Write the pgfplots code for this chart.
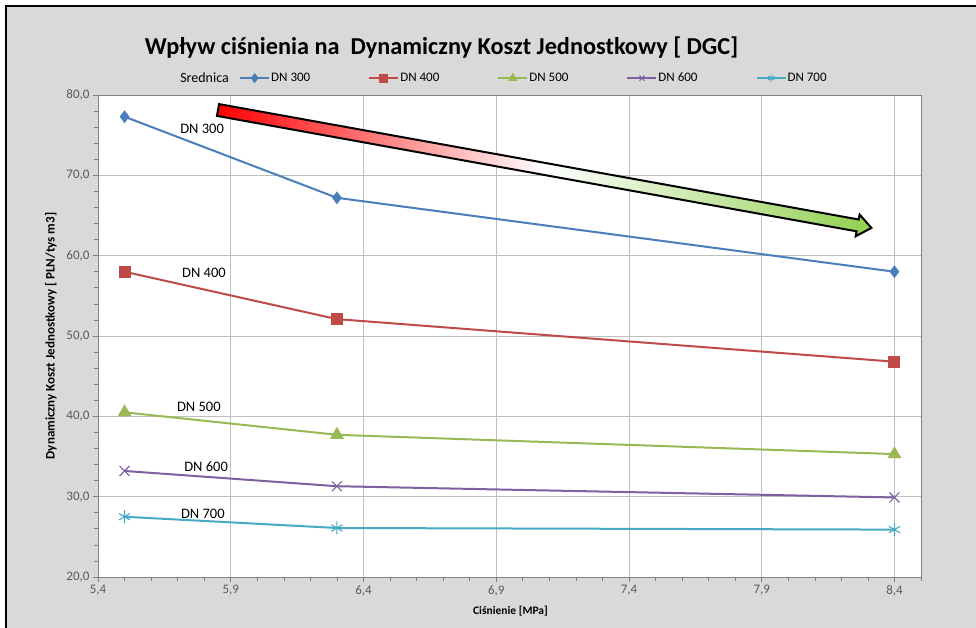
\documentclass[border=0pt]{standalone}
\usepackage{fontspec}
\setmainfont{Carlito}
\usepackage{pgfplots}
\pgfplotsset{compat=1.18}

\definecolor{bgc}{HTML}{D9D9D9}
\definecolor{gridc}{HTML}{BFBFBF}
\definecolor{tickc}{HTML}{595959}
\definecolor{c300}{HTML}{4A7EBB}
\definecolor{c400}{HTML}{BE4B48}
\definecolor{c500}{HTML}{98B954}
\definecolor{c600}{HTML}{7D60A0}
\definecolor{c700}{HTML}{46AAC5}
\definecolor{arrgreen}{HTML}{92D050}

\begin{document}
\begin{tikzpicture}[x=1pt,y=1pt]
\useasboundingbox (0,0) rectangle (976,628);
\fill[white] (0,0) rectangle (976,628);
\fill[bgc] (6,0) rectangle (976,622);
\draw[black, line width=1.5pt] (6,0) -- (6,622) -- (976,622);

% title
\node[font=\fontsize{24.3}{24.3}\selectfont\bfseries] at (441.5,580)
  {Wpływ ciśnienia na\ \ Dynamiczny Koszt Jednostkowy [ DGC]};
\node[font=\fontsize{14}{14}\selectfont, anchor=east, inner sep=0pt] at (229,550) {Srednica};

\begin{axis}[
  at={(98pt,51pt)}, anchor=south west,
  scale only axis, width=823pt, height=482pt,
  xmin=5.4, xmax=8.5, ymin=20, ymax=80,
  xtick={5.4,5.9,6.4,6.9,7.4,7.9,8.4},
  ytick={20,30,40,50,60,70,80},
  minor xtick={5.5,5.6,5.7,5.8,6.0,6.1,6.2,6.3,6.5,6.6,6.7,6.8,7.0,7.1,7.2,7.3,7.5,7.6,7.7,7.8,8.0,8.1,8.2,8.3,8.5},
  minor ytick={22,24,26,28,32,34,36,38,42,44,46,48,52,54,56,58,62,64,66,68,72,74,76,78},
  grid=major,
  major grid style={draw=gridc, line width=0.8pt},
  tick pos=left, tick align=outside,
  major tick length=5pt, minor tick length=4pt,
  every tick/.style={draw=gray, line width=0.6pt},
  axis line style={draw=gray, line width=0.8pt},
  axis background/.style={fill=white},
  ticklabel style={font=\fontsize{13}{13}\selectfont, text=tickc},
  /pgf/number format/.cd, fixed, fixed zerofill, precision=1, use comma, assume math mode=true,
  /pgfplots/.cd,
  xlabel={Ciśnienie [MPa]},
  xlabel style={at={(axis description cs:0.5012,0)}, anchor=center, yshift=-34pt, font=\fontsize{11.5}{11.5}\selectfont\bfseries},
  ylabel={Dynamiczny Koszt Jednostkowy [ PLN/tys m3]},
  ylabel style={at={(axis description cs:0,0.5)}, anchor=center, yshift=47pt, font=\fontsize{13}{13}\selectfont\bfseries},
  legend columns=-1,
  legend style={at={(axis description cs:0.1713,1.035)}, anchor=west, draw=none, fill=none,
    font=\fontsize{13}{13}\selectfont, inner sep=0pt,
    nodes={inner sep=1pt},
    /tikz/every even column/.append style={column sep=57pt}},
  legend image code/.code={\draw[mark repeat=2, mark phase=2, #1, line width=2pt, mark size=3.5pt]
    plot coordinates {(0pt,0pt) (14.5pt,0pt) (29pt,0pt)};},
  every axis plot/.append style={line width=2pt},
]

\addplot[c300, mark=diamond*, mark size=4.8pt, mark options={fill=c300}]
  coordinates {(5.5,77.3) (6.3,67.2) (8.4,58.0)};
\addlegendentry{DN 300}

\addplot[c400, mark=square*, mark size=5pt, mark options={fill=c400}]
  coordinates {(5.5,58.0) (6.3,52.1) (8.4,46.8)};
\addlegendentry{DN 400}

\addplot[c500, mark=triangle*, mark size=6pt, mark options={fill=c500}]
  coordinates {(5.5,40.5) (6.3,37.7) (8.4,35.3)};
\addlegendentry{DN 500}

\addplot[c600, mark=x, mark size=7pt, mark options={line width=1.1pt}]
  coordinates {(5.5,33.2) (6.3,31.3) (8.4,29.9)};
\addlegendentry{DN 600}

\addplot[c700, mark=asterisk, mark size=6.5pt, mark options={line width=1.1pt}]
  coordinates {(5.5,27.5) (6.3,26.1) (8.4,25.9)};
\addlegendentry{DN 700}

\node[font=\fontsize{14.5}{14.5}\selectfont] at (axis cs:5.792,75.8) {DN 300};
\node[font=\fontsize{14.5}{14.5}\selectfont] at (axis cs:5.799,57.8) {DN 400};
\node[font=\fontsize{14.5}{14.5}\selectfont] at (axis cs:5.780,41.2) {DN 500};
\node[font=\fontsize{14.5}{14.5}\selectfont] at (axis cs:5.807,33.7) {DN 600};
\node[font=\fontsize{14.5}{14.5}\selectfont] at (axis cs:5.795,27.8) {DN 700};
\end{axis}

% gradient block arrow
\begin{scope}[shift={(218,518)}, rotate=-10.23]
  \shade[left color=red, right color=arrgreen, middle color=white, draw=black, line width=2pt, line join=miter]
    (0,-6) -- (650,-6) -- (650,-11) -- (664,0) -- (650,11) -- (650,6) -- (0,6) -- cycle;
\end{scope}
\end{tikzpicture}
\end{document}
